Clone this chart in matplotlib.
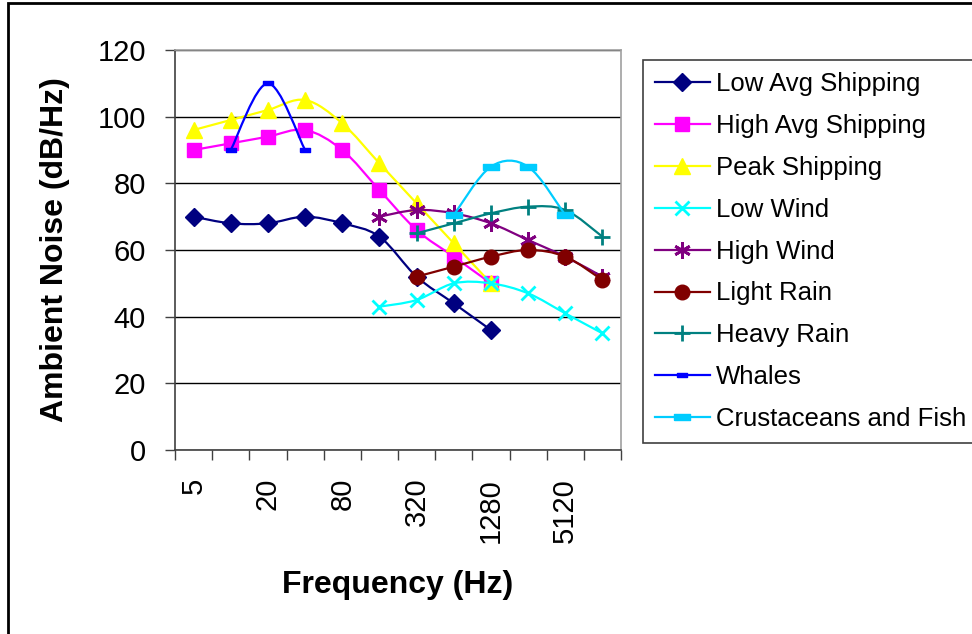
import numpy as np
import matplotlib
matplotlib.use("Agg")
import matplotlib.pyplot as plt
from matplotlib.path import Path
from matplotlib.patches import PathPatch, Rectangle
from matplotlib.lines import Line2D

plt.rcParams['font.family'] = ['Liberation Sans', 'DejaVu Sans']

# categorias de frecuencia (Hz)
freqs = ['5', '10', '20', '40', '80', '160', '320', '640', '1280', '2560', '5120', '10240']

# cada serie: (indice de la primera categoria, valores)
low_avg_shipping = (0, [70, 68, 68, 70, 68, 64, 52, 44, 36])
high_avg_shipping = (0, [90, 92, 94, 96, 90, 78, 66, 58, 50])
peak_shipping = (0, [96, 99, 102, 105, 98, 86, 74, 62, 50])
low_wind = (5, [43, 45, 50, 50, 47, 41, 35])
high_wind = (5, [70, 72, 71, 68, 63, 58, 52])
light_rain = (6, [52, 55, 58, 60, 58, 51])
heavy_rain = (6, [65, 68, 71, 73, 72, 64])
whales = (1, [90, 110, 90])
crustaceans = (7, [70.5, 85, 85, 70.5])

names = ['Low Avg Shipping', 'High Avg Shipping', 'Peak Shipping', 'Low Wind',
         'High Wind', 'Light Rain', 'Heavy Rain', 'Whales', 'Crustaceans and Fish']
series = [low_avg_shipping, high_avg_shipping, peak_shipping, low_wind,
          high_wind, light_rain, heavy_rain, whales, crustaceans]
colors = ['#000080', '#FF00FF', '#FFFF00', '#00FFFF', '#800080',
          '#800000', '#008080', '#0000FF', '#00CCFF']

# marcadores tipo guion (rectangulo)
dash = Path([(-1, -0.35), (1, -0.35), (1, 0.35), (-1, 0.35), (-1, -0.35)])
asterisk = (6, 2, 0)
markers = ['D', 's', '^', 'x', asterisk, 'o', '+', dash, dash]
msizes = [9, 10, 11, 10, 12, 10.5, 12, 7, 12]


def smooth_path(x, y):
    # curva suave al estilo Excel: Bezier cubica por tramos (Catmull-Rom)
    pts = np.column_stack([x, y]).astype(float)
    p = np.vstack([pts[0], pts, pts[-1]])
    verts = [pts[0]]
    codes = [Path.MOVETO]
    for i in range(1, len(p) - 2):
        c1 = p[i] + (p[i + 1] - p[i - 1]) / 6
        c2 = p[i + 1] - (p[i + 2] - p[i]) / 6
        verts += [c1, c2, p[i + 1]]
        codes += [Path.CURVE4] * 3
    return Path(verts, codes)


fig = plt.figure(figsize=(9.72, 6.34), dpi=100)
ax = fig.add_axes([175 / 972, 1 - 450 / 634, 446 / 972, 400 / 634])

handles = []
for k, ((start, vals), name, c, m, ms) in enumerate(zip(series, names, colors, markers, msizes)):
    xs = np.arange(start, start + len(vals))
    ax.add_patch(PathPatch(smooth_path(xs, vals), fill=False, edgecolor=c,
                           lw=1.6, zorder=3 + 2 * k, capstyle='round'))
    mew = 2 if m in ('x', '+', asterisk) else 1
    ax.plot(xs, vals, ls='none', marker=m, ms=ms, color=c, mec=c, mew=mew,
            zorder=4 + 2 * k)
    handles.append(Line2D([], [], color=c, lw=1.6, marker=m, ms=ms, mec=c, mew=mew))

ax.set_xlim(-0.5, 11.5)
ax.set_ylim(0, 120)
ax.set_yticks(np.arange(0, 121, 20))
ax.yaxis.grid(True, color='black', lw=1)
ax.set_axisbelow(True)

# marcas en los limites de categoria, etiquetas en los centros
ax.set_xticks(np.arange(-0.5, 12, 1))
ax.set_xticklabels([])
ax.set_xticks(np.arange(0, 12, 2), minor=True)
ax.set_xticklabels(freqs[::2], minor=True, rotation=90, fontsize=21)
ax.tick_params(axis='x', which='major', length=7, width=1, color='#404040', direction='out')
ax.tick_params(axis='x', which='minor', length=0, pad=20)
ax.tick_params(axis='y', length=7, width=1, color='#404040', labelsize=21, pad=14)

for s in ('left', 'bottom'):
    ax.spines[s].set_color('#404040')
    ax.spines[s].set_linewidth(1.2)
for s in ('top', 'right'):
    ax.spines[s].set_color('#A0A0A0')
    ax.spines[s].set_linewidth(1.2)

ax.set_xlabel('Frequency (Hz)', fontsize=23, fontweight='bold')
ax.xaxis.set_label_coords(0.5, -0.30)
ax.set_ylabel('Ambient Noise (dB/Hz)', fontsize=23, fontweight='bold')
ax.yaxis.set_label_coords(-0.235, 0.5)

leg = fig.legend(handles, names, loc='upper left', bbox_to_anchor=(643 / 972, 1 - 60 / 634),
                 fontsize=18.5, numpoints=1, handlelength=2.15, handletextpad=0.25,
                 labelspacing=0.7, borderpad=0.45, borderaxespad=0, fancybox=False,
                 frameon=True, framealpha=1)
leg.get_frame().set_edgecolor('#404040')
leg.get_frame().set_linewidth(1.2)

# marco exterior del grafico (solo visibles los bordes izquierdo y superior)
fig.patches.append(Rectangle((8 / 972, -0.5), 2, 1.5 - 3 / 634, transform=fig.transFigure,
                             fill=False, edgecolor='black', lw=2))

fig.savefig('out.png', dpi=100)
